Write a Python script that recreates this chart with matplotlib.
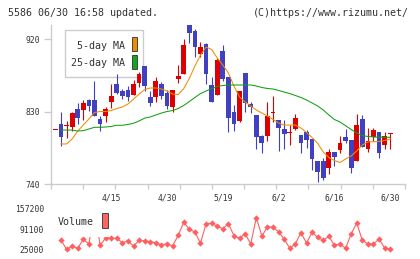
import matplotlib
matplotlib.use("Agg")
import matplotlib.pyplot as plt
from matplotlib.patches import Rectangle
import numpy as np

plt.rcParams['font.family'] = ['DejaVu Sans Mono']

W, H = 420, 259
nan = np.nan

# daily candles, oldest first
opens = [808, 815, 812, 811, 833, 832, 844, 844, 821, 824,
         842, 864, 855, 857, 851, 865, 887, 848, 848, 864,
         853, 835, 870, 877, 937, 930, 902, 914, 863, 851,
         905, 873, 829, 818, 878, 839, 826, 800, 799, 828,
         819, 808, 803, 808, 801, 804, 796, 768, 768, 760,
         780, 782, 798, 795, 769, 821, 784, 798, 805, 788, 803]
highs = [808, 830, 818, 829, 840, 844, 845, 868, 824, 836,
         864, 877, 858, 862, 869, 879, 887, 855, 873, 867,
         857, 857, 888, 920, 937, 932, 916, 915, 873, 897,
         913, 873, 838, 855, 878, 842, 826, 801, 842, 849,
         819, 819, 813, 827, 801, 807, 796, 768, 772, 784,
         780, 800, 808, 795, 827, 826, 810, 810, 805, 805, 803]
lows = [808, 787, 797, 806, 815, 819, 831, 824, 806, 817,
        834, 852, 845, 843, 850, 861, 855, 837, 842, 846,
        833, 830, 866, 877, 915, 898, 898, 864, 842, 851,
        868, 805, 806, 817, 829, 828, 783, 778, 793, 817,
        781, 784, 788, 807, 779, 785, 757, 743, 745, 753,
        762, 778, 791, 754, 769, 786, 780, 793, 772, 784, 784]
closes = [808, 798, 813, 828, 822, 840, 837, 824, 815, 833,
          849, 853, 849, 848, 864, 877, 862, 840, 868, 849,
          837, 857, 874, 913, 928, 910, 910, 877, 842, 894,
          870, 822, 815, 855, 841, 836, 798, 791, 824, 830,
          810, 802, 804, 822, 791, 795, 771, 755, 747, 780,
          774, 791, 794, 760, 813, 786, 793, 807, 779, 799, 803]

ma5 = [nan,
       789.7, 789.7, 795.9, 805.8, 813.2, 820.7, 828.8, 830.0, 830.0, 831.2,
       833.7, 835.6, 839.3, 845.5, 851.7, 857.3, 859.2, 859.2, 858.0, 855.4,
       851.7, 851.1, 858.5, 871.0, 886.5, 900.0, 910.0, 907.0, 896.4, 887.7,
       877.8, 861.6, 848.0, 841.8, 836.8, 831.9, 828.1, 824.4, 820.0, 815.7,
       813.2, 813.2, 813.2, 809.5, 803.9, 797.7, 790.5, 779.7, 772.9, 769.2,
       766.7, 771.0, 774.8, 781.0, 788.4, 792.2, 792.5, 792.8, 794.0, 795.9]
ma25 = [nan,
        807.0, 807.0, 807.0, 805.8, 806.2, 808.3, 810.4, 810.4, 810.8, 811.4,
        812.9, 812.9, 813.9, 815.4, 818.2, 821.8, 823.2, 825.7, 828.1, 830.0,
        831.2, 833.7, 837.5, 842.4, 847.4, 852.3, 855.5, 858.3, 861.0, 862.3,
        862.9, 862.9, 862.9, 862.9, 862.9, 861.7, 859.8, 858.6, 857.9, 856.1,
        854.2, 852.3, 849.9, 847.4, 844.3, 840.6, 836.8, 831.9, 825.7, 820.1,
        817.0, 812.4, 807.7, 803.3, 800.2, 799.0, 798.3, 798.3, 798.0, 798.0]
volume = [nan,
          55500, 25000, 34800, 28300, 57800, 42400, 157200, 39100, 61100, 61100,
          61100, 46600, 52200, 35800, 54500, 52200, 49900, 46600, 39100, 43400,
          35800, 70900, 113600, 90600, 81700, 44700, 109000, 110300, 100400, 92600,
          109000, 69600, 61100, 76200, 42400, 128600, 68600, 98100, 98100, 81700,
          58800, 28300, 42400, 79400, 45700, 80800, 64400, 54500, 67600, 38100,
          42400, 28300, 75200, 111300, 54500, 42400, 42400, 58800, 29300, 25000]

date_labels = ["4/15", "4/30", "5/19", "6/2", "6/16", "6/30"]
date_pos = [10, 20, 30, 40, 50, 60]
price_ticks = [740, 830, 920]
volume_ticks = [25000, 91100, 157200]

RED = '#dc0000'
BLUE = '#4040c0'
ORANGE = '#f08c00'
GREEN = '#10a010'
VOL = '#ff5f5f'
GRID = '#cccccc'
TXT = '#333333'


def box(x0, y0, x1, y1):
    # pixel box -> figure fraction
    return (x0 / W, 1 - y1 / H), (x1 - x0) / W, (y1 - y0) / H


fig = plt.figure(figsize=(W / 100, H / 100), dpi=100)
ax = fig.add_axes([51 / W, 1 - 184 / H, 354 / W, 159 / H])
axv = fig.add_axes([51 / W, 1 - 253 / H, 354 / W, 48 / H])

x = np.arange(len(opens))
o = np.array(opens, float)
c = np.array(closes, float)
up = c >= o
cols = [RED if u else BLUE for u in up]
bottoms = np.minimum(o, c)
heights = np.maximum(np.abs(c - o), 1.2)
bottoms = np.where(np.abs(c - o) < 1.2, (o + c) / 2 - 0.6, bottoms)

# legend box sits under the candles
xy, w, h = box(65, 30, 143, 77)
ax.add_patch(Rectangle(xy, w, h, transform=fig.transFigure, facecolor='white',
                       edgecolor=GRID, lw=1.0, zorder=1, clip_on=False))

ax.vlines(x, lows, highs, colors=cols, lw=0.8, zorder=2)
ax.bar(x, heights, bottom=bottoms, width=0.85, color=cols, linewidth=0, zorder=3)
ax.plot(x, ma5, color=ORANGE, lw=0.75, zorder=4)
ax.plot(x, ma25, color=GREEN, lw=0.75, zorder=4)

xlim = (-0.79, 62.65)
ax.set_xlim(*xlim)
ax.set_ylim(740, 937.4)
for s in ['top', 'right']:
    ax.spines[s].set_visible(False)
for s in ['left', 'bottom']:
    ax.spines[s].set_color(GRID)
    ax.spines[s].set_linewidth(1.0)
ax.set_yticks(price_ticks)
ax.set_yticklabels([str(t) for t in price_ticks])
ax.tick_params(axis='y', length=5, width=1.0, color=GRID, pad=3,
               labelsize=5.8, labelcolor=TXT)
ax.set_xticks(date_pos)
ax.set_xticklabels(date_labels)
ax.set_xticks(np.linspace(xlim[0], xlim[1], 12), minor=True)
ax.tick_params(axis='x', which='major', length=0, pad=7, labelsize=5.8, labelcolor=TXT)
ax.tick_params(axis='x', which='minor', length=3.6, width=1.0, color=GRID)

# volume panel
axv.plot(x, volume, color=VOL, lw=0.8, marker='D', markersize=3.2,
         markeredgewidth=0, markerfacecolor=VOL)
axv.set_xlim(*xlim)
axv.set_ylim(12864, 170304)
for s in axv.spines.values():
    s.set_visible(False)
axv.set_xticks([])
axv.set_yticks(volume_ticks)
axv.set_yticklabels([str(t) for t in volume_ticks])
axv.tick_params(axis='y', length=0, pad=5, labelsize=5.8, labelcolor=TXT)

# legend texts and swatches
fs = 7.2
fig.text(125 / W, 1 - 45.7 / H, "5-day MA", ha='right', va='center', fontsize=fs, color=TXT, zorder=6)
fig.text(125 / W, 1 - 63.3 / H, "25-day MA", ha='right', va='center', fontsize=fs, color=TXT, zorder=6)
xy, w, h = box(131.7, 37, 137.3, 51)
fig.add_artist(Rectangle(xy, w, h, facecolor=ORANGE, edgecolor='#444444', lw=0.7, zorder=6))
xy, w, h = box(131.7, 55, 137.3, 69)
fig.add_artist(Rectangle(xy, w, h, facecolor='#10a820', edgecolor='#444444', lw=0.7, zorder=6))

# volume legend covers part of the line
xy, w, h = box(56, 205, 109, 236.5)
fig.add_artist(Rectangle(xy, w, h, facecolor='white', edgecolor='none', zorder=5))
fig.text(58 / W, 1 - 222.3 / H, "Volume", ha='left', va='center', fontsize=fs, color=TXT, zorder=6)
xy, w, h = box(102, 213.3, 107.7, 228.3)
fig.add_artist(Rectangle(xy, w, h, facecolor='#ff6464', edgecolor='#444444', lw=0.7, zorder=6))

fig.text(8 / W, 1 - 13 / H, "5586 06/30 16:58 updated.", ha='left', va='center', fontsize=fs, color=TXT)
fig.text(409 / W, 1 - 13 / H, "(C)https://www.rizumu.net/", ha='right', va='center', fontsize=fs, color=TXT)

fig.savefig("out.png", dpi=100)
